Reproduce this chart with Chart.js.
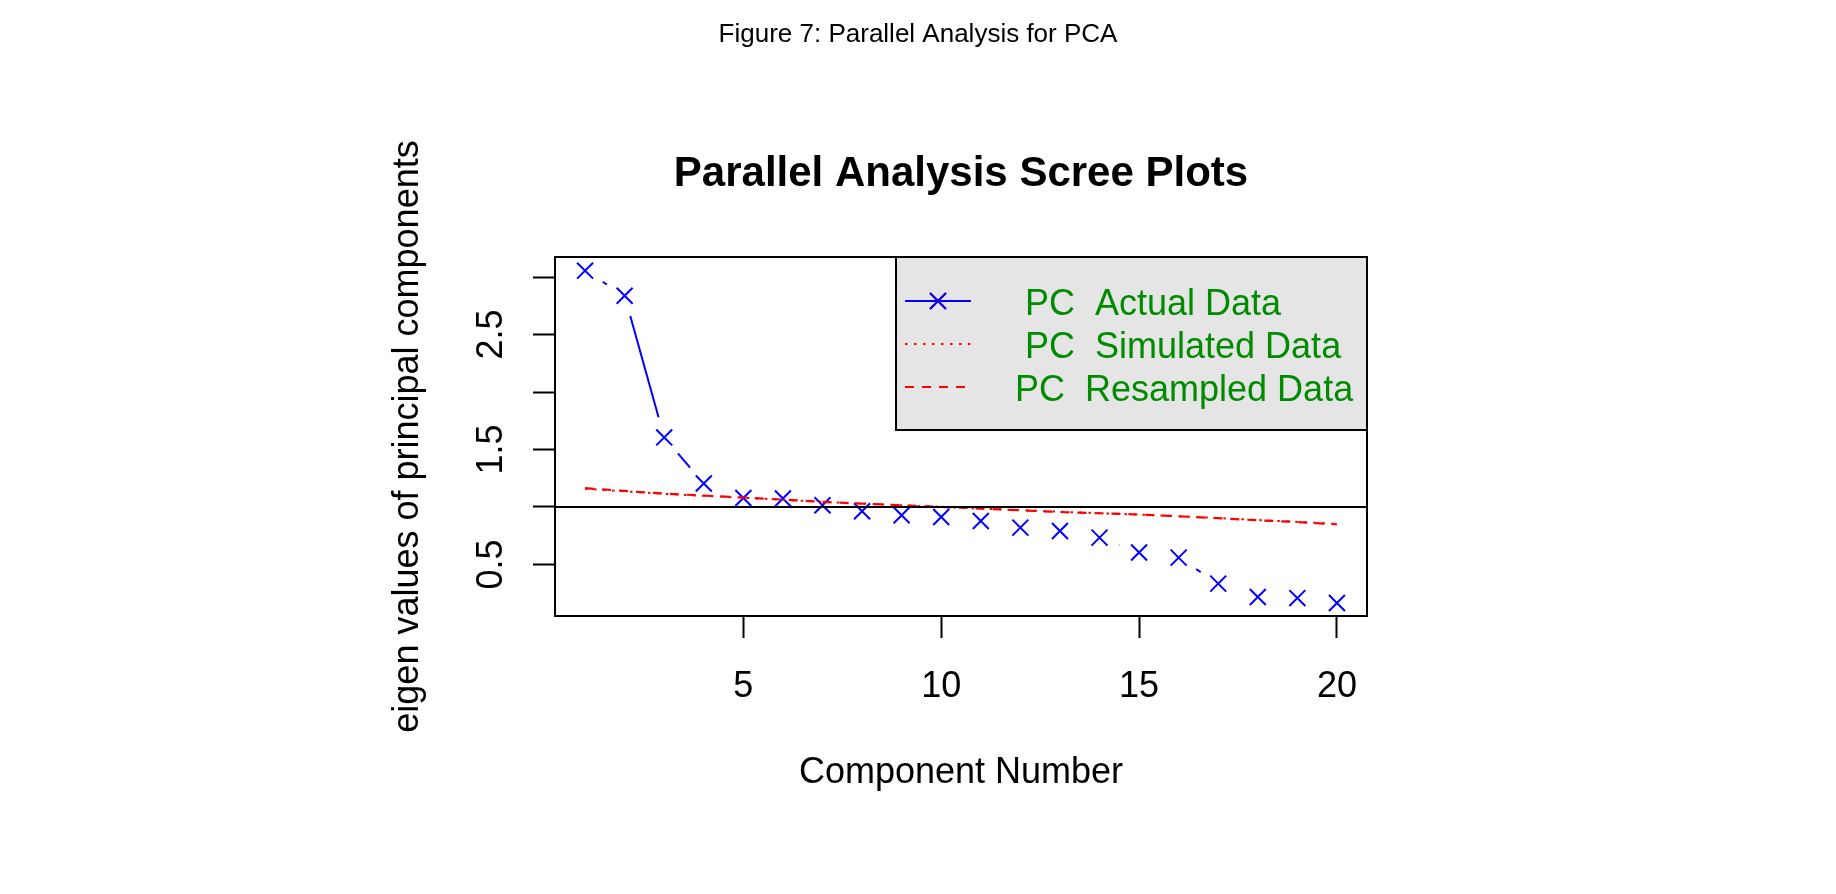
<!DOCTYPE html>
<html>
<head>
<meta charset="utf-8">
<title>Parallel Analysis Scree Plots</title>
<script src="https://cdn.jsdelivr.net/npm/chart.js@4.4.1/dist/chart.umd.min.js"></script>
<style>
    html, body { margin: 0; padding: 0; background: #ffffff; }
    #screeChart { display: block; }
</style>
</head>
<body>
<canvas id="screeChart" width="1836" height="894"></canvas>
<script>
// DATA
const components = [1, 2, 3, 4, 5, 6, 7, 8, 9, 10, 11, 12, 13, 14, 15, 16, 17, 18, 19, 20];
const actualData = [3.056, 2.838, 1.605, 1.204, 1.078, 1.073, 1.015, 0.963, 0.928, 0.913,
                    0.878, 0.820, 0.791, 0.733, 0.603, 0.559, 0.333, 0.216, 0.207, 0.164];
const simulatedData = [1.158, 1.136, 1.114, 1.097, 1.080, 1.062, 1.045, 1.030, 1.014, 1.001,
                       0.985, 0.972, 0.958, 0.946, 0.933, 0.920, 0.903, 0.886, 0.870, 0.852];
const resampledData = [1.163, 1.139, 1.116, 1.099, 1.082, 1.064, 1.044, 1.029, 1.015, 1.000,
                       0.986, 0.971, 0.956, 0.945, 0.934, 0.919, 0.902, 0.884, 0.869, 0.849];
const xTicks = [5, 10, 15, 20];
const yTicks = [0.5, 1, 1.5, 2, 2.5, 3];
const yTickLabels = ["0.5", "", "1.5", "", "2.5", ""];
const legendLabels = ["  PC  Actual Data", "  PC  Simulated Data", " PC  Resampled Data"];
const refLine = 1;
const figureCaption = "Figure 7: Parallel Analysis for PCA";
const chartTitle = "Parallel Analysis Scree Plots";
const xTitle = "Component Number";
const yTitle = "eigen values of principal components";

const FONT = "'Liberation Sans', Arial, Helvetica, sans-serif";

// TYPE "b" LINE: SEGMENTS BETWEEN MARKERS, WITH A GAP AROUND EACH MARKER
const gappedLine = {
    id: "gappedLine",
    afterDatasetDraw(chart, args) {
        if (args.index !== 0) return;
        const pts = args.meta.data;
        const gap = 21;
        const ctx = chart.ctx;
        ctx.save();
        ctx.strokeStyle = "#0000ff";
        ctx.lineWidth = 2;
        for (let i = 0; i < pts.length - 1; i++) {
            const a = pts[i], b = pts[i + 1];
            const dx = b.x - a.x, dy = b.y - a.y;
            const len = Math.hypot(dx, dy);
            if (len <= 2 * gap) continue;
            const ux = dx / len, uy = dy / len;
            ctx.beginPath();
            ctx.moveTo(a.x + ux * gap, a.y + uy * gap);
            ctx.lineTo(b.x - ux * gap, b.y - uy * gap);
            ctx.stroke();
        }
        ctx.restore();
    },
};

// ABLINE, BOX, LEGEND AND TITLES
const decorations = {
    id: "decorations",
    afterDatasetsDraw(chart) {
        const ctx = chart.ctx;
        const ca = chart.chartArea;
        const yPix = chart.scales.y.getPixelForValue(refLine);
        ctx.save();
        ctx.strokeStyle = "#000";
        ctx.lineWidth = 2;
        ctx.beginPath();
        ctx.moveTo(ca.left, yPix);
        ctx.lineTo(ca.right, yPix);
        ctx.stroke();
        ctx.restore();
    },
    afterDraw(chart) {
        const ctx = chart.ctx;
        const ca = chart.chartArea;
        ctx.save();

        // legend (top right, gray90 background)
        const lx = ca.right - 471, ly = ca.top, lw = 471, lh = 173;
        ctx.fillStyle = "#e5e5e5";
        ctx.fillRect(lx, ly, lw, lh);
        ctx.strokeStyle = "#000";
        ctx.lineWidth = 2;
        ctx.strokeRect(lx, ly, lw, lh);

        const rows = [ly + 44, ly + 87, ly + 130];
        const lineStyles = [
            { color: "#0000ff", dash: [] },
            { color: "#ff0000", dash: [2.5, 6.5] },
            { color: "#ff0000", dash: [9, 8] },
        ];
        for (let i = 0; i < legendLabels.length; i++) {
            ctx.strokeStyle = lineStyles[i].color;
            ctx.setLineDash(lineStyles[i].dash);
            ctx.lineWidth = 2;
            ctx.beginPath();
            ctx.moveTo(lx + 9, rows[i]);
            ctx.lineTo(lx + 75, rows[i]);
            ctx.stroke();
            ctx.setLineDash([]);
            ctx.fillStyle = "#008b00";
            ctx.font = "36px " + FONT;
            ctx.textAlign = "left";
            ctx.textBaseline = "middle";
            ctx.fillText(legendLabels[i], lx + 109, rows[i] + 4);
        }
        Chart.helpers.drawPoint(ctx, {
            pointStyle: "crossRot", radius: 11.3, rotation: 0, borderWidth: 2,
        }, lx + 42, rows[0]);
        ctx.strokeStyle = "#0000ff";
        ctx.stroke();

        // box round the plot region
        ctx.strokeStyle = "#000";
        ctx.lineWidth = 2;
        ctx.strokeRect(ca.left, ca.top, ca.right - ca.left, ca.bottom - ca.top);

        // caption and main title
        ctx.fillStyle = "#000";
        ctx.textAlign = "center";
        ctx.textBaseline = "alphabetic";
        ctx.font = "26px " + FONT;
        ctx.fillText(figureCaption, chart.width / 2, 42);
        ctx.font = "bold 42px " + FONT;
        ctx.fillText(chartTitle, (ca.left + ca.right) / 2, 186);
        ctx.restore();
    },
};

const ctx = document.getElementById("screeChart").getContext("2d");
new Chart(ctx, {
    type: "line",
    data: {
        labels: components,
        datasets: [
            {
                label: legendLabels[0],
                data: components.map((c, i) => ({ x: c, y: actualData[i] })),
                showLine: false,
                pointStyle: "crossRot",
                pointRadius: 11.3,
                pointBorderWidth: 2,
                borderColor: "#0000ff",
                backgroundColor: "#0000ff",
                order: 3,
            },
            {
                label: legendLabels[1],
                data: components.map((c, i) => ({ x: c, y: simulatedData[i] })),
                borderColor: "#ff0000",
                borderWidth: 2,
                borderDash: [2.5, 6.5],
                pointRadius: 0,
                fill: false,
                order: 2,
            },
            {
                label: legendLabels[2],
                data: components.map((c, i) => ({ x: c, y: resampledData[i] })),
                borderColor: "#ff0000",
                borderWidth: 2.2,
                borderDash: [9, 8],
                pointRadius: 0,
                fill: false,
                order: 1,
            },
        ],
    },
    options: {
        responsive: false,
        animation: false,
        layout: { padding: { top: 257, right: 469, left: 0, bottom: 0 } },
        plugins: {
            legend: { display: false },
            tooltip: { enabled: false },
        },
        scales: {
            x: {
                type: "linear",
                min: 0.24,
                max: 20.76,
                afterBuildTicks: (scale) => {
                    scale.ticks = xTicks.map((v) => ({ value: v }));
                },
                afterFit: (scale) => {
                    scale.height = 278;
                },
                ticks: {
                    color: "#000",
                    font: { family: FONT, size: 36 },
                    padding: 27,
                    maxRotation: 0,
                    autoSkip: false,
                    callback: (value) => String(value),
                },
                grid: {
                    display: true,
                    drawOnChartArea: false,
                    drawTicks: true,
                    tickLength: 22,
                    tickWidth: 2,
                    tickColor: "#000",
                },
                border: { display: false },
                title: {
                    display: true,
                    text: xTitle,
                    color: "#000",
                    font: { family: FONT, size: 36 },
                    padding: { top: 0, bottom: 99 },
                },
            },
            y: {
                type: "linear",
                min: 0.051,
                max: 3.175,
                afterBuildTicks: (scale) => {
                    scale.ticks = yTicks.map((v) => ({ value: v }));
                },
                afterFit: (scale) => {
                    scale.width = 555;
                },
                ticks: {
                    color: "#000",
                    font: { family: FONT, size: 36 },
                    padding: 16,
                    minRotation: 90,
                    maxRotation: 90,
                    crossAlign: "center",
                    autoSkip: false,
                    callback: (value, index) => yTickLabels[index],
                },
                grid: {
                    display: true,
                    drawOnChartArea: false,
                    drawTicks: true,
                    tickLength: 22,
                    tickWidth: 2,
                    tickColor: "#000",
                },
                border: { display: false },
                title: {
                    display: true,
                    text: yTitle,
                    color: "#000",
                    font: { family: FONT, size: 36 },
                    padding: { top: 386, bottom: 0 },
                },
            },
        },
    },
    plugins: [gappedLine, decorations],
});
</script>
</body>
</html>
